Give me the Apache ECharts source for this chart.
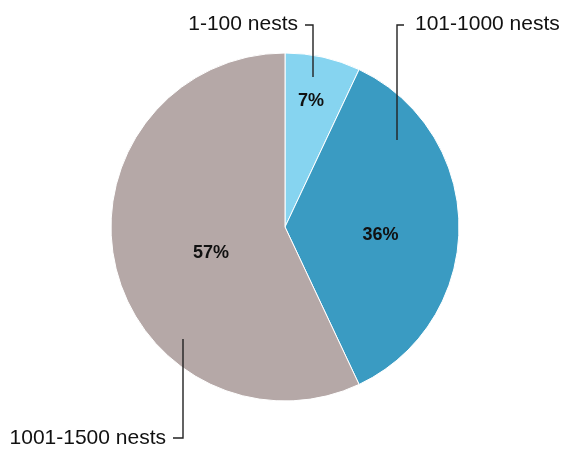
<!DOCTYPE html>
<html>
<head>
<meta charset="utf-8">
<script src="https://cdn.jsdelivr.net/npm/echarts@6/dist/echarts.min.js"></script>
<style>
  html, body { margin: 0; padding: 0; background: #fff; }
  #chart { width: 562px; height: 450px; }
</style>
</head>
<body>
<div id="chart"></div>
<script>
// Nesting colonies by size class
const categories = ['1-100 nests', '101-1000 nests', '1001-1500 nests'];
const shares = [7, 36, 57];
const sliceColors = ['#86d4f0', '#3a9bc2', '#b5a8a7'];

// Pie geometry
const CENTER = [285, 227];
const RADIUS = 174;

// Percent label placement: [angle clockwise from top (deg), fraction of radius]
const pctPlacement = [[11.7, 0.737], [94.8, 0.551], [250.6, 0.451]];

// Name label placement with their bracket-style leader lines
const nameLabels = [
  { x: 298, y: 24, align: 'right', line: [[305, 25], [313, 25], [313, 77]] },
  { x: 415, y: 24, align: 'left', line: [[404, 25], [397, 25], [397, 140]] },
  { x: 166, y: 438, align: 'right', line: [[173, 438], [183, 438], [183, 339]] }
];

const data = categories.map((name, i) => ({
  name: name,
  value: shares[i],
  itemStyle: { color: sliceColors[i] }
}));

const chart = echarts.init(document.getElementById('chart'), null, { renderer: 'canvas' });

chart.setOption({
  animation: false,
  graphic: nameLabels.map(n => ({
    type: 'polyline',
    silent: true,
    z: 10,
    shape: { points: n.line },
    style: { stroke: '#222', lineWidth: 1.4, fill: null }
  })),
  series: [
    {
      type: 'pie',
      center: CENTER,
      radius: RADIUS,
      startAngle: 90,
      clockwise: true,
      silent: true,
      data: data,
      itemStyle: { borderColor: '#ffffff', borderWidth: 1 },
      label: {
        show: true,
        position: 'inside',
        formatter: '{c}%',
        fontFamily: 'Liberation Sans, Arial, sans-serif',
        fontWeight: 'bold',
        fontSize: 18,
        color: '#111'
      },
      labelLine: { show: false },
      labelLayout: function (params) {
        const p = pctPlacement[params.dataIndex];
        const a = p[0] * Math.PI / 180;
        return {
          x: CENTER[0] + Math.sin(a) * RADIUS * p[1],
          y: CENTER[1] - Math.cos(a) * RADIUS * p[1],
          align: 'center',
          verticalAlign: 'middle'
        };
      }
    },
    {
      type: 'pie',
      center: CENTER,
      radius: RADIUS,
      startAngle: 90,
      clockwise: true,
      silent: true,
      data: categories.map((name, i) => ({ name: name, value: shares[i] })),
      itemStyle: { color: 'rgba(0,0,0,0)', borderWidth: 0 },
      label: {
        show: true,
        position: 'outside',
        formatter: '{b}',
        overflow: 'none',
        fontFamily: 'Liberation Sans, Arial, sans-serif',
        fontSize: 21,
        color: '#111'
      },
      labelLine: { show: false },
      labelLayout: function (params) {
        const n = nameLabels[params.dataIndex];
        return {
          x: n.x,
          y: n.y,
          align: n.align,
          verticalAlign: 'middle'
        };
      }
    }
  ]
});
</script>
</body>
</html>
